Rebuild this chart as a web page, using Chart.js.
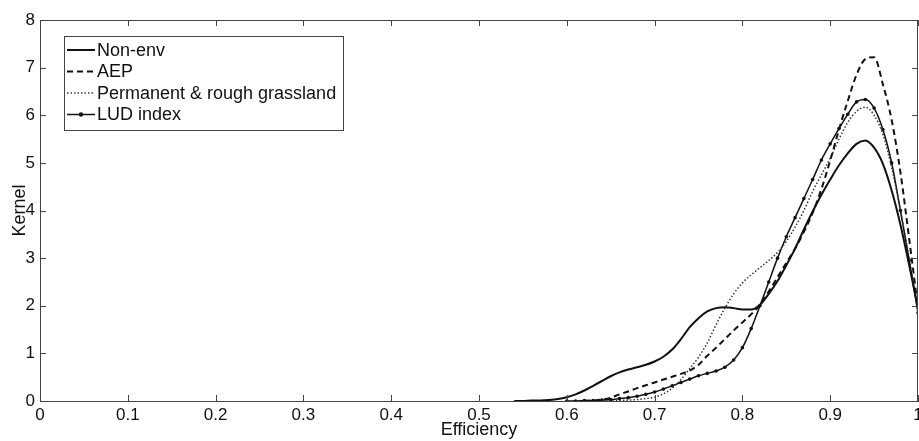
<!DOCTYPE html>
<html>
<head>
<meta charset="utf-8">
<script src="https://cdn.jsdelivr.net/npm/chart.js@4.4.1/dist/chart.umd.min.js"></script>
<style>
  html, body { margin: 0; padding: 0; background: #fff; }
  #wrap { width: 919px; height: 441px; position: relative; }
</style>
</head>
<body>
<div id="wrap"><canvas id="kernelChart"></canvas></div>
<script>
// efficiency grid the kernel densities are read at
const efficiency = [0.54, 0.55, 0.56, 0.57, 0.58, 0.59, 0.60, 0.61, 0.62, 0.63,
  0.64, 0.65, 0.66, 0.67, 0.68, 0.69, 0.70, 0.71, 0.72, 0.73,
  0.74, 0.75, 0.76, 0.77, 0.78, 0.79, 0.80, 0.81, 0.82, 0.83,
  0.84, 0.85, 0.86, 0.87, 0.88, 0.89, 0.90, 0.91, 0.92, 0.93,
  0.94, 0.95, 0.96, 0.97, 0.98, 0.99, 1.00];

const nonEnv = [0.00, 0.00, 0.01, 0.01, 0.02, 0.04, 0.08, 0.14, 0.22, 0.32,
  0.42, 0.52, 0.60, 0.66, 0.71, 0.76, 0.83, 0.93, 1.08, 1.30,
  1.55, 1.74, 1.88, 1.95, 1.97, 1.95, 1.92, 1.92, 2.02, 2.25,
  2.52, 2.85, 3.20, 3.60, 3.98, 4.33, 4.65, 4.95, 5.20, 5.40,
  5.47, 5.32, 4.98, 4.42, 3.70, 2.85, 1.95];

const aep = [null, null, null, null, null, null, null, null, 0.00, 0.01,
  0.03, 0.07, 0.14, 0.20, 0.27, 0.33, 0.39, 0.45, 0.51, 0.57,
  0.64, 0.76, 0.95, 1.12, 1.30, 1.48, 1.65, 1.82, 2.02, 2.30,
  2.60, 2.90, 3.20, 3.55, 3.95, 4.45, 5.05, 5.70, 6.30, 6.85,
  7.18, 7.22, 6.65, 5.90, 4.80, 3.40, 1.95];

const grassland = [null, null, null, null, null, null, null, null, null, null,
  0.00, 0.00, 0.01, 0.02, 0.03, 0.05, 0.08, 0.15, 0.27, 0.45,
  0.68, 0.92, 1.22, 1.60, 1.95, 2.25, 2.48, 2.65, 2.80, 2.95,
  3.12, 3.35, 3.65, 4.00, 4.40, 4.75, 5.10, 5.50, 5.85, 6.08,
  6.17, 6.00, 5.60, 4.90, 4.00, 3.00, 1.90];

const ludIndex = [null, null, null, null, null, null, 0.00, 0.00, 0.01, 0.01,
  0.02, 0.03, 0.05, 0.07, 0.10, 0.14, 0.19, 0.25, 0.32, 0.39,
  0.46, 0.53, 0.58, 0.63, 0.71, 0.86, 1.12, 1.52, 2.00, 2.50,
  3.00, 3.45, 3.85, 4.25, 4.65, 5.06, 5.40, 5.72, 6.02, 6.28,
  6.33, 6.15, 5.70, 5.00, 4.00, 2.95, 1.85];

const seriesNames = ['Non-env', 'AEP', 'Permanent & rough grassland', 'LUD index'];

const xTicks = [0, 0.1, 0.2, 0.3, 0.4, 0.5, 0.6, 0.7, 0.8, 0.9, 1];
const xTickLabels = ['0', '0.1', '0.2', '0.3', '0.4', '0.5', '0.6', '0.7', '0.8', '0.9', '1'];
const yTicks = [0, 1, 2, 3, 4, 5, 6, 7, 8];

const FONT = 'Liberation Sans, Arial, sans-serif';
const INK = '#111';
const FRAME = '#444';

function toPoints(values) {
  return efficiency.map((x, i) => ({ x: x, y: values[i] }));
}

// top/right frame, inward ticks on all sides, and the boxed legend
const framePlugin = {
  id: 'frame',
  afterDraw(chart) {
    const ctx = chart.ctx;
    const area = chart.chartArea;
    const xs = chart.scales.x;
    const ys = chart.scales.y;
    const tick = 6;

    ctx.save();
    ctx.strokeStyle = FRAME;
    ctx.lineWidth = 1;
    ctx.setLineDash([]);
    ctx.beginPath();
    ctx.moveTo(area.left, area.top + 0.5);
    ctx.lineTo(area.right, area.top + 0.5);
    ctx.moveTo(area.right - 0.5, area.top);
    ctx.lineTo(area.right - 0.5, area.bottom);

    xTicks.forEach(v => {
      const px = Math.round(xs.getPixelForValue(v)) + 0.5;
      ctx.moveTo(px, area.bottom);
      ctx.lineTo(px, area.bottom - tick);
      ctx.moveTo(px, area.top);
      ctx.lineTo(px, area.top + tick);
    });
    yTicks.forEach(v => {
      const py = Math.round(ys.getPixelForValue(v)) + 0.5;
      ctx.moveTo(area.left, py);
      ctx.lineTo(area.left + tick, py);
      ctx.moveTo(area.right, py);
      ctx.lineTo(area.right - tick, py);
    });
    ctx.stroke();

    // legend
    const box = { left: 64, top: 36, right: 343, bottom: 130 };
    ctx.fillStyle = '#fff';
    ctx.fillRect(box.left, box.top, box.right - box.left, box.bottom - box.top);
    ctx.strokeStyle = FRAME;
    ctx.strokeRect(box.left + 0.5, box.top + 0.5, box.right - box.left, box.bottom - box.top);

    ctx.font = '18px ' + FONT;
    ctx.textBaseline = 'middle';
    ctx.textAlign = 'left';
    chart.data.datasets.forEach((ds, i) => {
      const y = 50 + i * 21.5;
      ctx.strokeStyle = ds.borderColor;
      ctx.lineWidth = ds.borderWidth;
      ctx.setLineDash(ds.borderDash || []);
      ctx.beginPath();
      ctx.moveTo(67, y);
      ctx.lineTo(95, y);
      ctx.stroke();
      if (ds.pointRadius > 0) {
        ctx.fillStyle = ds.pointBackgroundColor;
        ctx.beginPath();
        ctx.arc(81, y, ds.pointRadius + 0.4, 0, Math.PI * 2);
        ctx.fill();
      }
      ctx.fillStyle = INK;
      ctx.fillText(ds.label, 97, y + 1);
    });
    ctx.restore();
  }
};

new Chart(document.getElementById('kernelChart'), {
  type: 'line',
  data: {
    datasets: [
      {
        label: seriesNames[0],
        data: toPoints(nonEnv),
        borderColor: INK,
        borderWidth: 2,
        pointRadius: 0
      },
      {
        label: seriesNames[1],
        data: toPoints(aep),
        borderColor: INK,
        borderWidth: 2,
        borderDash: [6, 4],
        pointRadius: 0
      },
      {
        label: seriesNames[2],
        data: toPoints(grassland),
        borderColor: '#333',
        borderWidth: 1.5,
        borderDash: [1.5, 2],
        pointRadius: 0
      },
      {
        label: seriesNames[3],
        data: toPoints(ludIndex),
        borderColor: INK,
        borderWidth: 1.5,
        pointRadius: 1.8,
        pointBorderWidth: 0,
        pointBackgroundColor: INK
      }
    ]
  },
  options: {
    responsive: true,
    maintainAspectRatio: false,
    animation: false,
    cubicInterpolationMode: 'monotone',
    layout: { autoPadding: false, padding: { top: 20, right: 1, left: 0, bottom: 0 } },
    plugins: {
      legend: { display: false },
      tooltip: { enabled: false }
    },
    scales: {
      x: {
        type: 'linear',
        min: 0,
        max: 1,
        afterBuildTicks: scale => { scale.ticks = xTicks.map(v => ({ value: v })); },
        afterFit: scale => {
          scale.height = 40;
          scale.paddingLeft = 0;
          scale.paddingRight = 0;
        },
        grid: { display: false, drawTicks: false },
        border: { display: true, color: FRAME, width: 1 },
        ticks: {
          autoSkip: false,
          maxRotation: 0,
          padding: 4,
          color: INK,
          font: { family: FONT, size: 17 },
          callback: (value, index) => xTickLabels[index]
        },
        title: {
          display: true,
          text: 'Efficiency',
          color: INK,
          font: { family: FONT, size: 18 },
          padding: { top: 0, bottom: 0 }
        }
      },
      y: {
        min: 0,
        max: 8,
        afterBuildTicks: scale => { scale.ticks = yTicks.map(v => ({ value: v })); },
        afterFit: scale => {
          scale.width = 40;
          scale.paddingTop = 0;
          scale.paddingBottom = 0;
        },
        grid: { display: false, drawTicks: false },
        border: { display: true, color: FRAME, width: 1 },
        ticks: {
          padding: 5,
          color: INK,
          font: { family: FONT, size: 17 },
          callback: value => String(value)
        },
        title: {
          display: true,
          text: 'Kernel',
          color: INK,
          font: { family: FONT, size: 18 },
          padding: { top: 9, bottom: 0 }
        }
      }
    }
  },
  plugins: [framePlugin]
});
</script>
</body>
</html>
